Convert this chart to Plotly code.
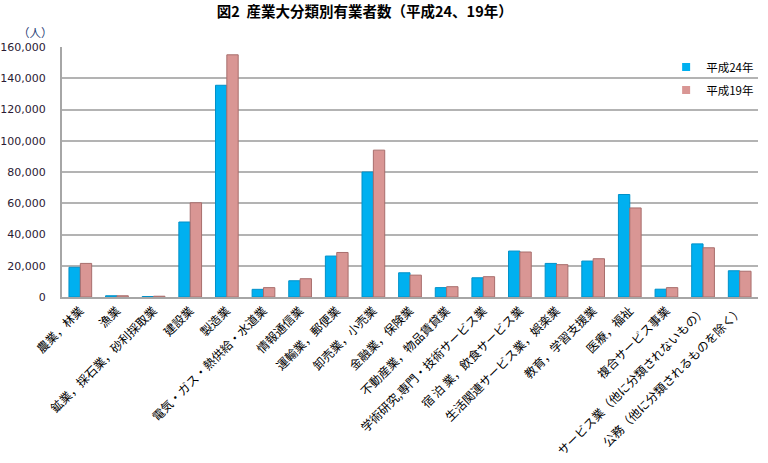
import plotly.graph_objects as go

categories = [
    "農業，林業", "漁業", "鉱業，採石業，砂利採取業", "建設業", "製造業",
    "電気・ガス・熱供給・水道業", "情報通信業", "運輸業，郵便業", "卸売業，小売業",
    "金融業，保険業", "不動産業，物品賃貸業", "学術研究,専門・技術サービス業",
    "宿 泊 業，飲食サービス業", "生活関連サービス業，娯楽業", "教育，学習支援業",
    "医療，福祉", "複合サービス事業", "サービス業（他に分類されないもの）",
    "公務（他に分類されるものを除く）",
]
h24 = [19000, 800, 300, 48000, 135500, 4900, 10400, 26200, 80000, 15500,
       6000, 12300, 29400, 21500, 23000, 65600, 5000, 34000, 16800]
h19 = [21500, 800, 500, 60300, 155000, 6000, 11700, 28500, 94000, 14000,
       6600, 13000, 28800, 20700, 24500, 57000, 6000, 31500, 16500]
series_names = ["平成24年", "平成19年"]
colors = ["#00B0F0", "#D99694"]
edge = ["#0090C8", "#A86E6C"]
yticks = [0, 20000, 40000, 60000, 80000, 100000, 120000, 140000, 160000]

FONT = "Noto Sans CJK JP"
fig = go.Figure()
for i, (vals, name, c, e) in enumerate(zip([h24, h19], series_names, colors, edge)):
    fig.add_bar(x=categories, y=vals, name=name, marker_color=c,
                marker_line=dict(color=e, width=1), showlegend=False)
    fig.add_scatter(x=[None], y=[None], mode="markers", name=name,
                    legendgroup=f"g{i}",
                    marker=dict(symbol="square", size=8, color=c), showlegend=True)

fig.update_layout(
    width=768, height=463,
    margin=dict(l=62, r=10, t=47, b=166, autoexpand=False),
    paper_bgcolor="white", plot_bgcolor="white",
    barmode="group", bargap=0.38, bargroupgap=0.0,
    font=dict(family=FONT, size=12, color="#222"),
    title=dict(text="<b>図2  産業大分類別有業者数（平成24、19年）</b>",
               xref="container", x=0.475, xanchor="center", y=0.974, yanchor="middle",
               font=dict(size=14.5, color="#000", family=FONT)),
    legend=dict(x=0.868, y=0.978, xanchor="left", yanchor="top",
                bgcolor="rgba(255,255,255,0)", font=dict(size=11.5, color="#000"),
                itemwidth=30, tracegroupgap=4),
    showlegend=True,
)
fig.update_xaxes(
    tickangle=-45, tickfont=dict(size=12, color="#000"), automargin=False,
    showline=True, linecolor="#A6A6A6", linewidth=2, mirror=False,
    ticks="", showgrid=False,
)
fig.update_yaxes(
    range=[0, 160000], tickvals=yticks, automargin=False,
    ticktext=[f"{v:,}" for v in yticks],
    tickfont=dict(size=11, color="#2b1a33", family="DejaVu Sans"),
    showgrid=True, gridcolor="#B3B3B3", gridwidth=2,
    showline=True, linecolor="#A6A6A6", linewidth=2,
    zeroline=False, ticks="", ticklabelstandoff=12,
)
fig.add_annotation(text="（人）", xref="paper", yref="paper", x=-0.01, y=1.0,
                   xanchor="right", yanchor="bottom", yshift=5, showarrow=False,
                   font=dict(size=11.5, color="#1F3B73"))

fig.write_html("out.html")
